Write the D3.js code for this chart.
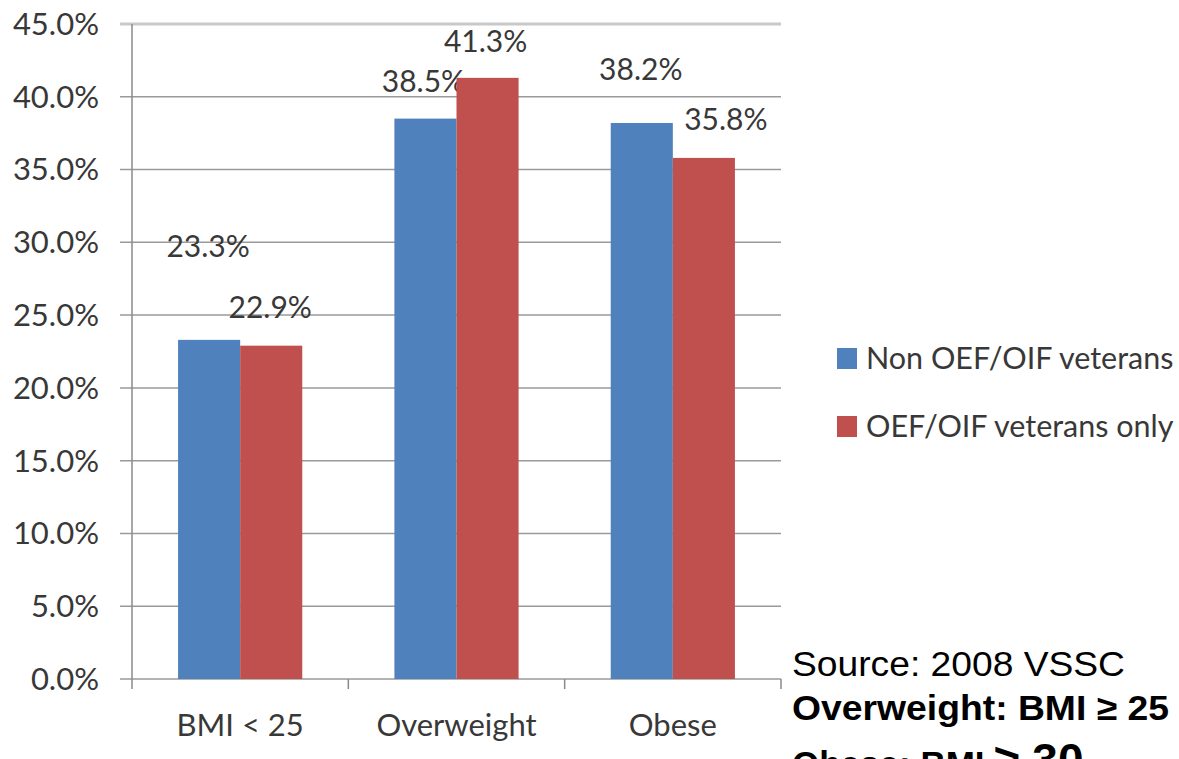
<!DOCTYPE html>
<html>
<head>
<meta charset="utf-8">
<script src="https://cdn.jsdelivr.net/npm/d3@7"></script>
<style>
  html, body { margin: 0; padding: 0; background: #fff; }
  svg { display: block; }
  .tick-label, .data-label, .legend-label { font-family: Lato, "Open Sans", sans-serif; fill: #383838; }
  .note { font-family: "Liberation Sans", Arial, sans-serif; fill: #000; }
</style>
</head>
<body>
<div id="chart"></div>
<script>
// Chart data
const categories = ['BMI < 25', 'Overweight', 'Obese'];
const seriesNames = ['Non OEF/OIF veterans', 'OEF/OIF veterans only'];
const nonOefValues = [23.3, 38.5, 38.2];
const oefValues = [22.9, 41.3, 35.8];
const yTicks = [0, 5, 10, 15, 20, 25, 30, 35, 40, 45];

// Excel labels were dragged by hand, so each one has its own nudge (px)
const labelShift = [
  [[-1, -83], [-2, -27], [-1, -43]],
  [[-1, -28], [-2, -26], [22, -28]]
];

const colors = ['#4F81BD', '#C0504D'];

const width = 1179;
const height = 759;

const svg = d3.select('#chart')
  .append('svg')
  .attr('width', width)
  .attr('height', height);

// Plot area
const plot = { left: 132, right: 781, top: 24, bottom: 679 };

const x = d3.scaleBand()
  .domain(categories)
  .range([plot.left, plot.right])
  .paddingInner(0)
  .paddingOuter(0);

const xInner = d3.scaleBand()
  .domain(seriesNames)
  .range([0, x.bandwidth()])
  .paddingOuter(0.742)
  .paddingInner(0);

const y = d3.scaleLinear()
  .domain([0, 45])
  .range([plot.bottom, plot.top]);

// Gridlines (extend left of the axis as tick marks)
svg.append('g')
  .selectAll('line')
  .data(yTicks)
  .enter()
  .append('line')
  .attr('x1', plot.left - 12)
  .attr('x2', plot.right)
  .attr('y1', d => y(d))
  .attr('y2', d => y(d))
  .attr('stroke', d => d === 45 ? '#c8c8c8' : '#9a9a9a')
  .attr('stroke-width', d => d === 45 ? 3 : 1.5);

// Y axis line
svg.append('line')
  .attr('x1', plot.left).attr('x2', plot.left)
  .attr('y1', plot.top).attr('y2', plot.bottom + 10)
  .attr('stroke', '#8a8a8a')
  .attr('stroke-width', 1.5);

// Y tick labels
svg.append('g')
  .selectAll('text')
  .data(yTicks)
  .enter()
  .append('text')
  .attr('class', 'tick-label')
  .attr('x', 99)
  .attr('y', d => y(d))
  .attr('dy', '0.35em')
  .attr('text-anchor', 'end')
  .style('font-size', '31px')
  .text(d => d.toFixed(1) + '%');

// Category tick marks
const catEdges = categories.map(c => x(c)).concat([plot.right]);
svg.append('g')
  .selectAll('line')
  .data(catEdges.slice(1))
  .enter()
  .append('line')
  .attr('x1', d => d).attr('x2', d => d)
  .attr('y1', plot.bottom).attr('y2', plot.bottom + 10)
  .attr('stroke', '#8a8a8a')
  .attr('stroke-width', 1.5);

// X tick labels
svg.append('g')
  .selectAll('text')
  .data(categories)
  .enter()
  .append('text')
  .attr('class', 'tick-label')
  .attr('x', d => x(d) + x.bandwidth() / 2)
  .attr('y', 736)
  .attr('text-anchor', 'middle')
  .style('font-size', '31px')
  .text(d => d);

// Bars
const series = [nonOefValues, oefValues];
series.forEach((values, si) => {
  const g = svg.append('g');
  g.selectAll('rect')
    .data(values)
    .enter()
    .append('rect')
    .attr('x', (d, i) => x(categories[i]) + xInner(seriesNames[si]))
    .attr('y', d => y(d))
    .attr('width', xInner.bandwidth())
    .attr('height', d => y(0) - y(d))
    .attr('fill', colors[si]);

  g.selectAll('text')
    .data(values)
    .enter()
    .append('text')
    .attr('class', 'data-label')
    .attr('x', (d, i) => x(categories[i]) + xInner(seriesNames[si]) + xInner.bandwidth() / 2 + labelShift[si][i][0])
    .attr('y', d => y(d))
    .attr('dy', (d, i) => labelShift[si][i][1])
    .attr('text-anchor', 'middle')
    .style('font-size', '30px')
    .text(d => d.toFixed(1) + '%');
});

// Legend
const legend = svg.append('g')
  .attr('transform', 'translate(837, 358)');

const legendItems = legend.selectAll('g')
  .data(seriesNames)
  .enter()
  .append('g')
  .attr('transform', (d, i) => `translate(0, ${i * 68})`);

legendItems.append('rect')
  .attr('x', 0)
  .attr('y', -10)
  .attr('width', 20)
  .attr('height', 21)
  .attr('fill', (d, i) => colors[i]);

legendItems.append('text')
  .attr('class', 'legend-label')
  .attr('x', 29)
  .attr('y', 0)
  .attr('dy', '0.35em')
  .style('font-size', '30.5px')
  .text(d => d);

// Notes
svg.append('text')
  .attr('class', 'note')
  .attr('x', 792)
  .attr('y', 676)
  .style('font-size', '35px')
  .attr('textLength', 333)
  .attr('lengthAdjust', 'spacingAndGlyphs')
  .text('Source: 2008 VSSC');

svg.append('text')
  .attr('class', 'note')
  .attr('x', 792)
  .attr('y', 720)
  .style('font-size', '35px')
  .style('font-weight', 'bold')
  .attr('textLength', 377)
  .attr('lengthAdjust', 'spacingAndGlyphs')
  .text('Overweight: BMI \u2265 25');

const obese = svg.append('text')
  .attr('class', 'note')
  .attr('x', 792)
  .attr('y', 776)
  .style('font-size', '35px')
  .style('font-weight', 'bold');
obese.append('tspan').text('Obese: BMI ');
obese.append('tspan').style('font-size', '46px').text('\u2265 30');
</script>
</body>
</html>
